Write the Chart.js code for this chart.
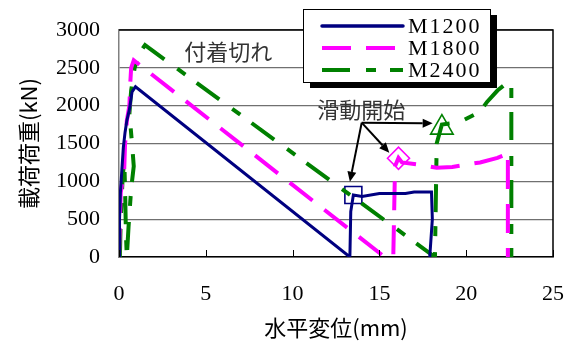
<!DOCTYPE html>
<html><head><meta charset="utf-8">
<script src="https://cdn.jsdelivr.net/npm/chart.js@4.4.1/dist/chart.umd.min.js"></script>
<style>html,body{margin:0;padding:0;background:#fff;}#wrap{width:571px;height:344px;}</style>
</head><body><div id="wrap"><canvas id="c" width="571" height="344"></canvas></div>
<script>
// ---- data (x: 水平変位 mm, y: 載荷荷重 kN) ----
const seriesNames = ['M1200', 'M1800', 'M2400'];
const m1200X = [0, 0.03, 0.08, 0.15, 0.25, 0.35, 0.45, 0.6, 0.75, 0.95, 13.3, 13.35, 13.5, 14.0, 15.0, 16.5, 17.0, 18.0, 18.05, 17.9];
const m1200Y = [0, 500, 850, 1100, 1450, 1650, 1800, 1950, 2180, 2250, 0, 600, 820, 800, 840, 840, 860, 860, 500, 0];
const m1800X = [0, 0.05, 0.1, 0.2, 0.3, 0.35, 0.4, 0.45, 0.6, 0.65, 0.7, 0.85, 15.3, 15.8, 15.9, 16.1, 16.3, 17.3, 18.3, 19.2, 20.8, 21.8, 22.5, 22.4, 22.4];
const m1800Y = [0, 500, 850, 1000, 1150, 1500, 1600, 1800, 2000, 2300, 2500, 2600, 0, 0, 1200, 1310, 1250, 1220, 1180, 1190, 1250, 1310, 1375, 1300, 0];
const m2400X = [0.05, 0.1, 0.2, 0.3, 0.35, 0.4, 0.45, 0.55, 0.7, 0.85, 0.75, 0.6, 0.7, 0.9, 1.2, 1.5, 18.2, 18.3, 18.6, 19.6, 20.8, 21.2, 21.8, 22.5, 22.6, 22.6];
const m2400Y = [0, 500, 1000, 1300, 900, 300, 0, 400, 900, 1200, 1500, 1900, 2200, 2500, 2700, 2800, 0, 1500, 1750, 1780, 1920, 2050, 2200, 2330, 2300, 0];
// 滑動開始 points
const slipX = [13.5, 16.1, 18.6];
const slipY = [820, 1305, 1710];
const xTicks = [0, 5, 10, 15, 20, 25];
const yTicks = [0, 500, 1000, 1500, 2000, 2500, 3000];
const colors = ['#000080', '#FF00FF', '#008000'];

const toPts = (xs, ys) => xs.map((x, i) => ({x: x, y: ys[i]}));

// annotation anchors (data units)
const annoPeel = {text: '付着切れ', x: 6.3, y: 2710};
const annoSlip = {text: '滑動開始', x: 13.95, y: 1950};
const arrowFrom = {x: 13.98, y: 1775};
const arrowTo = [{x: 13.3, y: 995}, {x: 15.57, y: 1379}, {x: 18.07, y: 1768}];

const serif = "'Liberation Serif', 'Times New Roman', serif";
const cjk = "'Noto Sans CJK JP', 'Noto Sans', sans-serif";

const deco = {
  id: 'deco',
  afterDatasetsDraw(chart) {
    const ctx = chart.ctx, xs = chart.scales.x, ys = chart.scales.y, a = chart.chartArea;
    ctx.save();
    ctx.strokeStyle = '#000'; ctx.lineWidth = 1.5;
    ctx.beginPath(); ctx.moveTo(a.left, a.top); ctx.lineTo(a.right, a.top); ctx.lineTo(a.right, a.bottom); ctx.stroke();
    ctx.strokeStyle = '#000'; ctx.lineWidth = 1;
    xTicks.forEach(v => { const px = Math.round(xs.getPixelForValue(v)) + 0.5; ctx.beginPath(); ctx.moveTo(px, a.bottom); ctx.lineTo(px, a.bottom - 7); ctx.stroke(); });
    ctx.fillStyle = '#333'; ctx.font = '22px ' + cjk; ctx.textAlign = 'center'; ctx.textBaseline = 'middle';
    [annoPeel, annoSlip].forEach(t => ctx.fillText(t.text, xs.getPixelForValue(t.x), ys.getPixelForValue(t.y)));
    const fx = xs.getPixelForValue(arrowFrom.x), fy = ys.getPixelForValue(arrowFrom.y);
    ctx.strokeStyle = '#000'; ctx.fillStyle = '#000'; ctx.lineWidth = 2;
    arrowTo.forEach(t => {
      const tx = xs.getPixelForValue(t.x), ty = ys.getPixelForValue(t.y);
      const ang = Math.atan2(ty - fy, tx - fx), hl = 10, hw = 4.5;
      const bx = tx - hl * Math.cos(ang), by = ty - hl * Math.sin(ang);
      ctx.beginPath(); ctx.moveTo(fx, fy); ctx.lineTo(bx, by); ctx.stroke();
      ctx.beginPath(); ctx.moveTo(tx, ty);
      ctx.lineTo(bx + hw * Math.sin(ang), by - hw * Math.cos(ang));
      ctx.lineTo(bx - hw * Math.sin(ang), by + hw * Math.cos(ang));
      ctx.closePath(); ctx.fill();
    });
    const L = 303, T = 9, W = 187, H = 73;
    ctx.fillStyle = '#000'; ctx.fillRect(L + 7, T + 6, W, H);
    ctx.fillStyle = '#fff'; ctx.fillRect(L, T, W, H);
    ctx.strokeStyle = '#000'; ctx.lineWidth = 1; ctx.strokeRect(L + 0.5, T + 0.5, W, H);
    const dashes = [[], [29, 15], [28, 16, 10, 14]];
    const widths = [3.5, 4, 4];
    seriesNames.forEach((n, i) => {
      const y = T + 17 + i * 22;
      ctx.strokeStyle = colors[i]; ctx.lineWidth = widths[i]; ctx.setLineDash(dashes[i]);
      ctx.lineCap = i === 0 ? 'round' : 'butt';
      ctx.beginPath(); ctx.moveTo(322, y); ctx.lineTo(403, y); ctx.stroke();
      ctx.setLineDash([]);
      ctx.fillStyle = '#000'; ctx.font = '22px ' + serif; ctx.textAlign = 'left'; ctx.textBaseline = 'middle';
      ctx.letterSpacing = '2px';
      ctx.fillText(n, 408, y + 1);
      ctx.letterSpacing = '0px';
    });
    ctx.restore();
  }
};

new Chart(document.getElementById('c'), {
  type: 'scatter',
  data: {
    datasets: [
      {label: seriesNames[0], data: toPts(m1200X, m1200Y), showLine: true, borderColor: colors[0], borderWidth: 3, pointRadius: 0, tension: 0, fill: false},
      {label: seriesNames[1], data: toPts(m1800X, m1800Y), showLine: true, borderColor: colors[1], borderWidth: 4, borderDash: [29, 15], pointRadius: 0, tension: 0, fill: false},
      {label: seriesNames[2], data: toPts(m2400X, m2400Y), showLine: true, borderColor: colors[2], borderWidth: 4, borderDash: [28, 16, 10, 14], pointRadius: 0, tension: 0, fill: false},
      {label: 'slip', data: toPts(slipX, slipY), showLine: false,
        pointStyle: ['rect', 'rectRot', 'triangle'], pointRadius: [12, 11, 13],
        pointBorderColor: colors, pointBackgroundColor: 'rgba(0,0,0,0)', pointBorderWidth: 1.6}
    ]
  },
  options: {
    responsive: false, animation: false,
    layout: {padding: {top: 30, right: 0, left: 0, bottom: 0}},
    plugins: {legend: {display: false}, tooltip: {enabled: false}},
    scales: {
      x: {
        type: 'linear', min: 0, max: 25,
        afterFit(s) { s.height = 87; },
        afterBuildTicks(s) { s.ticks = xTicks.map(v => ({value: v})); },
        grid: {display: true, drawOnChartArea: false, drawTicks: true, tickLength: 17, tickColor: 'rgba(0,0,0,0)'},
        border: {color: '#000', width: 1.5},
        ticks: {padding: 7, color: '#000', font: {family: serif, size: 22}, maxRotation: 0, callback: v => String(v)},
        title: {display: true, text: '水平変位(mm)', color: '#000', font: {family: cjk, size: 22}, padding: {top: 0, bottom: 3}}
      },
      y: {
        type: 'linear', min: 0, max: 3000,
        afterFit(s) { s.width = 119; },
        afterBuildTicks(s) { s.ticks = yTicks.map(v => ({value: v})); },
        grid: {color: '#707070', lineWidth: 1.3, drawTicks: true, tickLength: 16, tickColor: 'rgba(0,0,0,0)'},
        border: {color: '#808080', width: 1.5},
        ticks: {padding: 3, color: '#000', font: {family: serif, size: 22}, callback: v => String(v)},
        title: {display: true, text: '載荷荷重(kN)', color: '#000', font: {family: cjk, size: 22}, padding: {top: 15, bottom: 0}}
      }
    }
  },
  plugins: [deco]
});
</script>
</body></html>
